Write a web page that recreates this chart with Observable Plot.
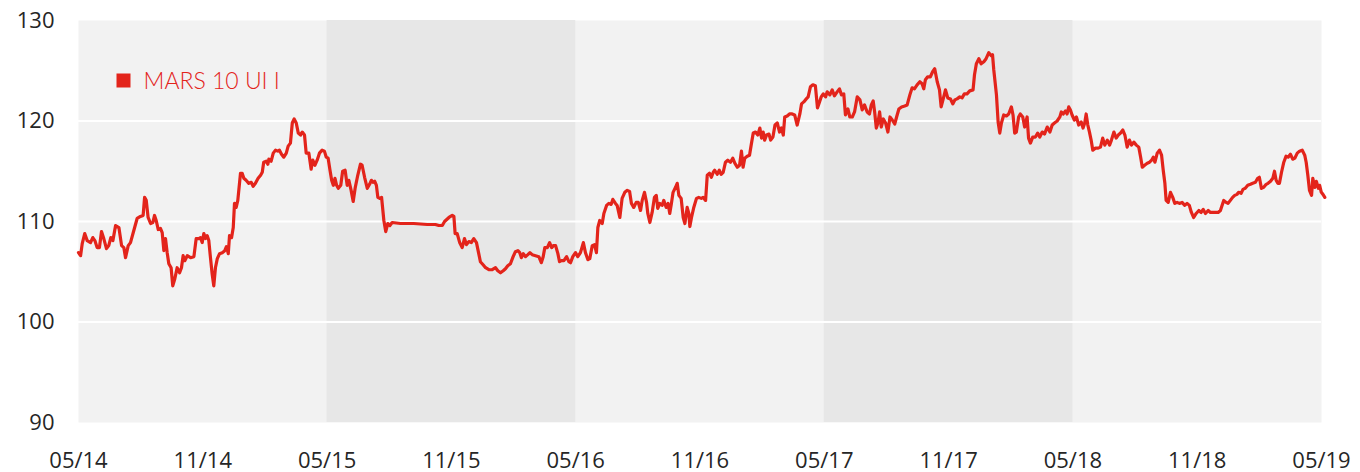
<!DOCTYPE html>
<html>
<head>
<meta charset="utf-8">
<script src="https://cdn.jsdelivr.net/npm/d3@7"></script>
<script src="https://cdn.jsdelivr.net/npm/@observablehq/plot@0.6"></script>
<style>
  html, body { margin: 0; padding: 0; background: #ffffff; }
  #chart { width: 1360px; height: 472px; }
</style>
</head>
<body>
<div id="chart"></div>
<script>
// Months elapsed since May 2014
const months = [
0.00,0.10,0.18,0.30,0.42,0.58,0.69,0.79,0.90,1.01,1.11,1.22,1.35,1.46,1.56,1.66,1.79,1.95,2.08,2.19,2.27,2.40,2.51,2.67,2.83,2.99,3.12,3.19,3.27,3.36,3.48,3.59,3.67,3.75,3.85,3.96,4.04,4.12,4.20,4.28,4.36,4.47,4.55,4.65,4.76,4.88,4.97,5.05,5.13,5.25,5.41,5.57,5.68,5.81,5.89,5.97,6.05,6.13,6.21,6.29,6.37,6.45,6.53,6.61,6.70,6.81,6.94,7.06,7.14,7.23,7.29,7.39,7.47,7.53,7.61,7.69,7.82,7.90,7.98,8.09,8.22,8.34,8.43,8.54,8.67,8.79,8.87,8.94,9.06,9.14,9.19,9.30,9.40,9.51,9.62,9.70,9.80,9.91,10.03,10.12,10.23,10.32,10.41,10.51,10.61,10.72,10.80,10.91,10.99,11.12,11.23,11.31,11.41,11.52,11.63,11.76,11.87,11.96,12.05,
12.14,12.22,12.30,12.38,12.46,12.54,12.66,12.75,12.87,12.97,13.05,13.16,13.26,13.36,13.48,13.61,13.69,13.81,13.94,14.05,14.14,14.23,14.30,14.38,14.45,14.54,14.63,14.74,14.83,14.93,15.03,15.14,15.54,16.18,16.83,17.23,17.39,17.56,17.67,17.88,18.04,18.12,18.18,18.28,18.40,18.52,18.63,18.73,18.84,18.96,19.08,19.21,19.32,19.40,19.53,19.65,19.81,19.97,20.13,20.24,20.37,20.50,20.61,20.72,20.85,20.98,21.09,21.21,21.30,21.38,21.47,21.58,21.69,21.79,21.90,22.06,22.22,22.34,22.43,22.51,22.63,22.74,22.84,22.92,23.03,23.14,23.22,23.31,23.43,23.56,23.67,23.75,23.86,23.99,24.10,24.23,
24.37,24.47,24.59,24.68,24.80,24.91,25.00,25.07,25.16,25.28,25.36,25.49,25.60,25.71,25.79,25.92,26.00,26.13,26.24,26.37,26.49,26.60,26.69,26.80,26.92,27.02,27.13,27.21,27.32,27.42,27.48,27.58,27.69,27.80,27.89,27.96,28.06,28.17,28.25,28.37,28.46,28.54,28.62,28.70,28.82,28.90,28.98,29.09,29.19,29.27,29.38,29.46,29.51,29.59,29.70,29.83,29.94,30.06,30.15,30.27,30.35,30.46,30.55,30.64,30.71,30.83,30.93,31.02,31.12,31.23,31.34,31.47,31.58,31.68,31.80,31.91,32.00,32.08,32.16,32.28,32.39,32.47,32.57,32.68,32.79,32.89,32.97,33.05,33.12,33.21,33.33,33.41,33.52,33.62,33.73,33.84,33.93,34.02,34.09,34.21,34.32,34.45,34.57,34.69,34.82,34.90,35.01,35.13,35.22,35.33,35.45,35.57,35.67,35.77,35.85,35.95,
36.06,36.14,36.27,36.38,36.49,36.62,36.73,36.83,36.94,37.02,37.14,37.23,37.35,37.46,37.59,37.72,37.83,37.94,38.07,38.18,38.27,38.36,38.43,38.51,38.59,38.67,38.75,38.85,38.96,39.07,39.17,39.28,39.40,39.49,39.60,39.73,39.88,40.00,40.13,40.24,40.35,40.48,40.61,40.72,40.80,40.88,40.99,41.12,41.23,41.33,41.45,41.56,41.64,41.74,41.85,41.96,42.09,42.20,42.30,42.41,42.54,42.65,42.76,42.89,43.02,43.18,43.25,43.34,43.46,43.57,43.70,43.81,43.94,44.06,44.12,44.18,44.31,44.39,44.47,44.55,44.66,44.79,44.90,45.03,45.11,45.19,45.27,45.38,45.46,45.58,45.67,45.79,45.86,45.95,46.06,46.19,46.30,46.40,46.52,46.63,46.76,46.89,47.00,47.11,47.24,47.37,47.44,47.53,47.64,47.72,47.80,47.88,
47.96,48.07,48.17,48.28,48.40,48.49,48.57,48.64,48.72,48.80,48.88,48.96,49.09,49.22,49.33,49.44,49.54,49.66,49.77,49.86,49.98,50.09,50.19,50.30,50.41,50.51,50.62,50.73,50.83,50.94,51.06,51.18,51.27,51.35,51.46,51.59,51.70,51.80,51.88,51.96,52.07,52.18,52.28,52.36,52.44,52.50,52.60,52.71,52.82,52.92,53.03,53.14,53.27,53.40,53.51,53.62,53.72,53.83,53.95,54.08,54.19,54.29,54.40,54.53,54.64,54.75,54.88,55.01,55.12,55.20,55.28,55.40,55.49,55.60,55.71,55.81,55.92,56.00,56.12,56.21,56.32,56.44,56.57,56.68,56.81,56.92,57.00,57.10,57.21,57.33,57.42,57.54,57.65,57.73,57.81,57.89,57.97,58.07,58.18,58.29,58.39,58.50,58.61,58.71,58.83,58.94,59.07,59.19,59.26,59.34,59.42,59.52,59.58,59.68,59.75,59.85,59.91,59.99,60.07,60.16
];

const values = [
106.9,106.6,107.8,108.8,108.1,107.9,108.4,108.1,107.4,107.4,109.0,108.3,107.3,107.6,108.4,108.1,109.6,109.4,107.6,107.4,106.4,107.6,107.9,109.1,110.3,110.5,110.6,112.4,112.1,110.4,109.8,109.9,110.6,110.1,109.2,109.3,108.9,107.1,108.3,106.9,105.8,105.4,103.6,104.3,105.4,104.9,105.4,106.6,106.1,106.6,106.4,106.5,108.3,108.3,108.4,107.9,108.8,108.3,108.6,108.1,106.4,104.8,103.6,105.4,106.3,106.8,106.9,107.1,107.5,106.8,108.6,108.4,109.4,111.8,111.4,112.1,114.8,114.8,114.3,114.1,113.8,113.9,113.5,113.8,114.3,114.6,114.9,115.9,116.0,115.7,116.2,116.0,116.8,117.1,117.0,117.1,116.7,116.4,116.8,117.5,117.8,119.8,120.2,119.8,118.8,118.6,118.9,118.6,116.8,116.8,115.2,116.1,115.6,116.1,116.8,117.1,117.0,116.4,116.3,
115.1,114.1,113.6,114.3,113.6,113.3,113.6,115.0,115.1,113.6,114.1,113.1,112.0,113.4,114.6,115.7,115.6,114.4,113.3,113.7,114.1,113.9,114.0,113.6,112.4,112.3,112.4,110.1,109.0,109.8,109.6,109.9,109.8,109.8,109.7,109.7,109.6,109.6,110.0,110.4,110.6,110.5,108.8,108.8,107.9,107.4,108.3,107.7,108.0,107.9,108.3,107.9,106.8,106.0,105.7,105.4,105.2,105.2,105.4,105.1,104.9,105.1,105.3,105.6,105.8,106.5,107.0,107.1,106.9,106.4,106.8,106.5,106.7,106.9,106.7,106.6,106.5,105.9,106.5,107.4,107.4,107.9,107.4,107.6,107.6,106.8,106.0,106.1,106.1,106.5,106.0,105.9,106.5,106.9,106.5,106.9,
107.9,106.9,106.2,106.3,107.6,107.7,106.9,109.4,110.1,109.8,110.8,111.6,111.8,111.7,112.2,111.8,111.6,110.4,112.3,112.9,113.1,113.0,111.8,111.4,111.9,111.9,111.1,112.1,112.9,111.9,110.8,109.9,110.9,112.4,112.6,111.3,111.8,111.6,112.1,111.4,111.8,110.8,111.8,112.9,113.4,113.8,112.6,112.3,110.4,109.8,111.4,110.8,109.5,110.4,111.4,112.3,112.4,112.3,112.4,112.1,114.6,114.8,114.4,114.9,115.1,114.7,115.1,114.7,114.9,115.9,116.1,115.9,116.3,115.8,115.4,115.6,117.0,115.4,116.3,116.5,116.6,117.6,118.8,118.9,118.6,119.3,118.3,118.9,118.1,118.6,118.7,118.1,118.4,119.6,119.8,118.9,119.3,118.6,120.4,120.5,120.7,120.7,120.6,119.6,120.7,121.7,121.9,122.2,122.4,123.4,123.6,123.5,121.3,121.9,122.4,122.7,
122.4,122.9,122.6,123.1,122.5,122.9,123.2,122.6,122.7,120.6,121.2,120.4,120.4,120.9,122.4,122.1,121.1,121.6,120.9,120.7,121.6,122.0,120.9,119.3,119.8,120.9,119.4,120.2,119.8,118.9,120.4,120.1,119.7,120.4,121.2,121.4,121.5,121.6,122.6,123.3,123.2,123.6,123.9,123.7,123.2,124.1,124.4,124.4,124.9,125.2,123.9,123.1,121.4,122.2,123.1,122.3,122.2,121.7,122.1,122.2,122.4,122.3,122.7,122.7,123.0,123.1,124.6,125.7,126.2,125.7,125.9,126.2,126.8,126.5,126.6,125.1,122.6,119.9,118.8,119.8,120.6,120.5,120.7,121.4,120.6,118.8,118.9,120.4,120.7,120.4,119.4,120.4,118.3,117.8,118.4,118.4,118.8,118.4,118.9,118.7,119.4,118.9,119.6,119.8,120.0,120.4,120.9,120.7,121.0,120.7,121.4,121.1,
120.6,120.1,120.4,119.6,119.9,119.3,119.8,120.7,119.6,118.9,118.1,117.1,117.3,117.3,117.4,118.3,117.6,118.1,117.6,118.1,118.9,118.3,118.6,118.8,119.1,118.6,117.4,118.1,117.6,117.9,117.6,117.4,116.4,115.4,115.6,115.8,115.9,116.1,116.4,115.9,116.8,117.1,116.6,115.1,113.8,112.1,111.9,112.9,112.4,111.8,111.9,111.8,111.9,111.6,111.8,111.6,110.9,110.4,110.8,111.1,110.9,111.2,110.8,111.1,110.9,110.9,110.9,110.9,111.1,111.6,112.1,111.9,111.8,112.1,112.4,112.6,112.7,112.9,112.8,113.2,113.3,113.6,113.7,113.8,113.9,114.3,114.4,113.3,113.4,113.7,113.8,114.0,114.3,115.0,114.1,113.8,113.8,114.9,115.9,116.5,116.4,116.7,116.2,116.3,116.8,117.0,117.1,116.6,115.9,114.6,113.1,112.6,114.3,113.4,114.0,113.3,113.6,112.9,112.7,112.4
];

const tickMonths = [0, 6, 12, 18, 24, 30, 36, 42, 48, 54, 60];
const tickLabels = ["05/14","11/14","05/15","11/15","05/16","11/16","05/17","11/17","05/18","11/18","05/19"];
const yTicks = [90, 100, 110, 120, 130];
const gridValues = [100, 110, 120];
const bandStarts = [12, 36];
const bandEnds = [24, 48];
const seriesName = "MARS 10 UI I";

const series = months.map((m, i) => ({m, v: values[i]}));
const bands = bandStarts.map((s, i) => ({s, e: bandEnds[i]}));

const red = "#e3241b";

const chart = Plot.plot({
  width: 1360,
  height: 472,
  marginLeft: 78,
  marginRight: 39,
  marginTop: 20,
  marginBottom: 50,
  style: {
    fontFamily: "'Open Sans', sans-serif",
    fontSize: "22px",
    color: "#262626",
    background: "#ffffff",
    overflow: "visible"
  },
  x: {
    domain: [0, 60],
    ticks: tickMonths,
    tickFormat: d => tickLabels[tickMonths.indexOf(d)],
    tickSize: 0,
    tickPadding: 30,
    label: null
  },
  y: {
    domain: [90, 130],
    ticks: yTicks,
    tickSize: 0,
    tickPadding: 24,
    label: null
  },
  marks: [
    Plot.frame({fill: "#f2f2f2", stroke: "none"}),
    Plot.rect(bands, {x1: "s", x2: "e", fill: "#e7e7e7"}),
    Plot.ruleY(gridValues, {stroke: "#ffffff", strokeWidth: 2}),
    Plot.line(series, {x: "m", y: "v", stroke: red, strokeWidth: 3.2, curve: "linear"}),
    Plot.dot([seriesName], {frameAnchor: "top-left", dx: 45, dy: 60, symbol: "square", r: 7.9, fill: red, stroke: "none"}),
    Plot.text([seriesName], {frameAnchor: "top-left", dx: 65, dy: 52, text: d => d, textAnchor: "start", fill: red, fontSize: 23, fontWeight: 300, fontFamily: "Lato, sans-serif"})
  ]
});

document.getElementById("chart").appendChild(chart);
</script>
</body>
</html>
